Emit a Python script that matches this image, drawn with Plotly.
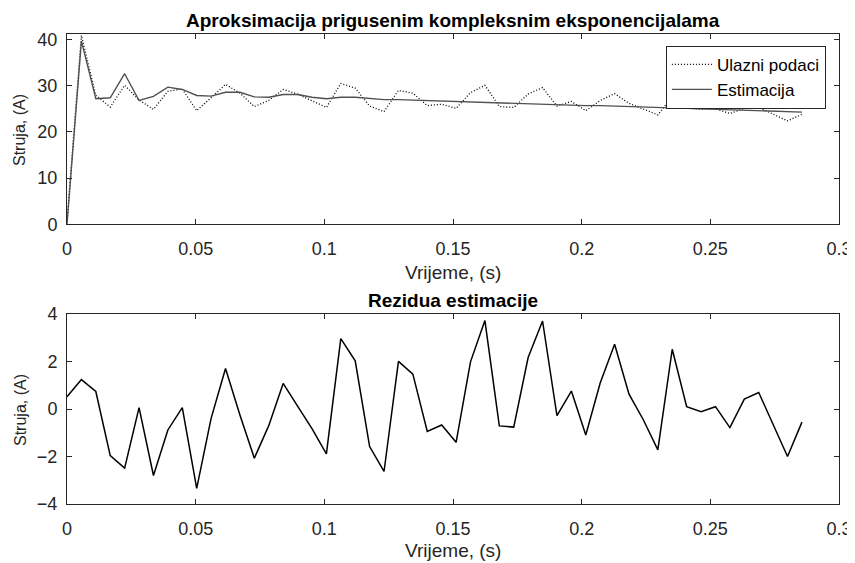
import plotly.graph_objects as go
from plotly.subplots import make_subplots

# korak uzorkovanja i vremenska osa
dt = 0.0056
vrijeme = [round(i * dt, 4) for i in range(52)]

# ulazni podaci (struja, A)
ulazni = [0.5, 40.9, 27.9, 25.4, 30.1, 26.9, 24.9, 28.8, 29.3, 24.6,
          27.4, 30.3, 28.4, 25.5, 26.8, 29.2, 28.2, 26.7, 25.3, 30.5,
          29.5, 25.6, 24.4, 29.0, 28.4, 25.7, 26.0, 25.1, 28.5, 30.1,
          25.5, 25.3, 28.2, 29.6, 25.6, 26.6, 24.6, 26.8, 28.3, 26.2,
          25.0, 23.7, 27.6, 25.2, 24.9, 25.0, 24.0, 25.1, 25.3, 23.9,
          22.4, 23.8]

# estimacija prigusenim kompleksnim eksponencijalama
estimacija = [0.0, 39.7, 27.2, 27.4, 32.6, 26.8, 27.7, 29.7, 29.2, 27.9,
              27.75, 28.6, 28.6, 27.6, 27.5, 28.1, 28.1, 27.5, 27.2, 27.5,
              27.5, 27.2, 27.0, 27.0, 26.9, 26.7, 26.7, 26.5, 26.5, 26.4,
              26.2, 26.1, 26.0, 25.9, 25.9, 25.8, 25.7, 25.7, 25.6, 25.6,
              25.5, 25.4, 25.2, 25.1, 25.0, 24.9, 24.8, 24.7, 24.6, 24.5,
              24.4, 24.3]

# rezidua
rezidua = [0.52, 1.24, 0.74, -1.96, -2.49, 0.06, -2.80, -0.88, 0.06, -3.34,
           -0.39, 1.71, -0.25, -2.07, -0.70, 1.08, 0.12, -0.82, -1.89, 2.97,
           2.03, -1.58, -2.63, 2.01, 1.47, -0.94, -0.67, -1.40, 1.99, 3.73,
           -0.71, -0.76, 2.17, 3.71, -0.28, 0.76, -1.09, 1.10, 2.73, 0.63,
           -0.46, -1.72, 2.52, 0.10, -0.11, 0.10, -0.78, 0.42, 0.70, -0.65,
           -2.00, -0.55]

x_ticks = [0, 0.05, 0.1, 0.15, 0.2, 0.25, 0.3]
x_tick_txt = ['0', '0.05', '0.1', '0.15', '0.2', '0.25', '0.3']

txt = '#262626'
font = 'Liberation Sans, Arial, sans-serif'

fig = make_subplots(rows=2, cols=1, vertical_spacing=0.0)

fig.add_trace(go.Scatter(x=vrijeme, y=ulazni, mode='lines', name='Ulazni podaci',
                         line=dict(color='black', width=1.3, dash='1px,2px')), row=1, col=1)
fig.add_trace(go.Scatter(x=vrijeme, y=estimacija, mode='lines', name='Estimacija',
                         line=dict(color='#505050', width=1.4)), row=1, col=1)
fig.add_trace(go.Scatter(x=vrijeme, y=rezidua, mode='lines', showlegend=False,
                         line=dict(color='black', width=1.5)), row=2, col=1)

ax = dict(showline=True, linecolor=txt, linewidth=1, mirror='ticks', ticks='inside',
          ticklen=5, tickcolor=txt, showgrid=False, zeroline=False, automargin=False,
          tickfont=dict(family=font, size=18, color=txt))

fig.update_xaxes(ax, range=[0, 0.3], tickvals=x_ticks, ticktext=x_tick_txt, domain=[0, 1],
                 ticklabelstandoff=8)
fig.update_yaxes(ax, ticklabelstandoff=5)
fig.update_layout(
    yaxis=dict(domain=[0.595, 1], range=[0, 41.2], tickvals=[0, 10, 20, 30, 40]),
    yaxis2=dict(domain=[0, 0.404], range=[-4, 4], tickvals=[-4, -2, 0, 2, 4]),
)

# pozicije tekstova u pikselima prozora (stranica ima marginu od 8px)
anots = [
    dict(text='<b>Aproksimacija prigusenim kompleksnim eksponencijalama</b>', y=21, color='black'),
    dict(text='<b>Rezidua estimacije</b>', y=300, color='black'),
    dict(text='Vrijeme, (s)', y=272, color=txt),
    dict(text='Vrijeme, (s)', y=550, color=txt),
]
for a in anots:
    fig.add_annotation(text=a['text'], xref='paper', x=0.5, yref='paper',
                       y=(563 - 59 - a['y']) / 470, showarrow=False,
                       xanchor='center', yanchor='middle',
                       font=dict(family=font, size=19, color=a['color']))
for yy in [130, 410]:
    fig.add_annotation(text='Struja, (A)', xref='paper', x=(20 - 67) / 772, yref='paper',
                       y=(563 - 59 - yy) / 470, showarrow=False, textangle=-90,
                       xanchor='center', yanchor='middle',
                       font=dict(family=font, size=16, color=txt))

fig.update_layout(
    width=847, height=555,
    margin=dict(l=59, r=16, t=26, b=59),
    paper_bgcolor='white', plot_bgcolor='white',
    legend=dict(x=0.983, y=0.975, xanchor='right', yanchor='top',
                bgcolor='white', bordercolor=txt, borderwidth=1,
                font=dict(family=font, size=17, color='black'),
                tracegroupgap=0, itemwidth=40),
)

fig.write_html("out.html")
